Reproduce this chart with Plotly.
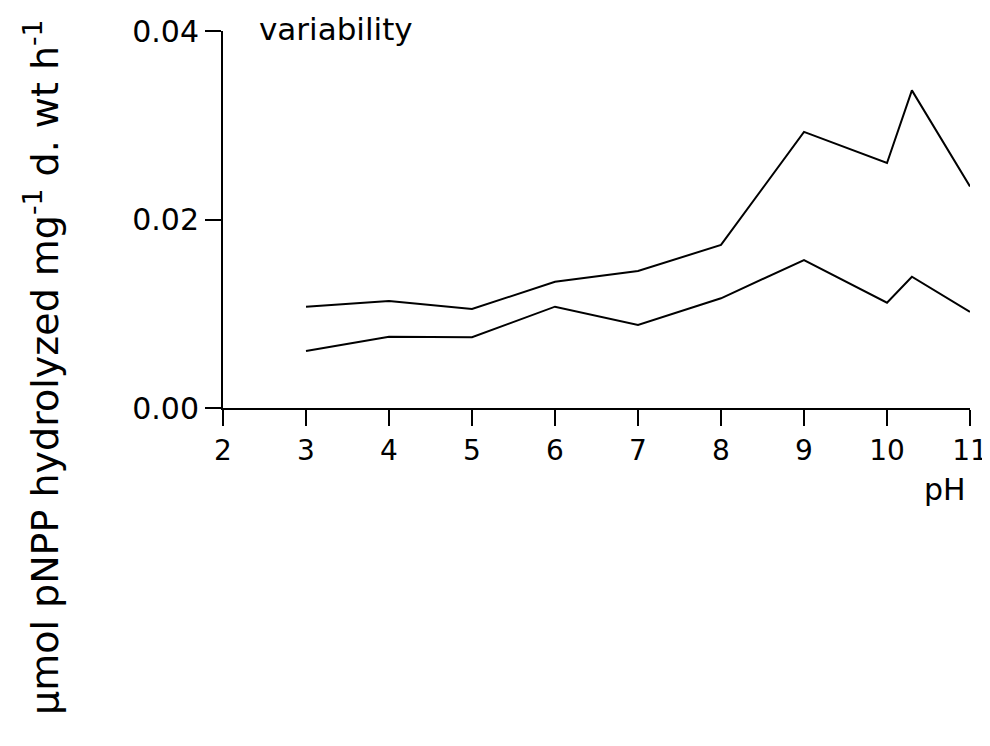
import plotly.graph_objects as go

ph = [3, 4, 5, 6, 7, 8, 9, 10, 10.3, 11]
upper = [0.01075, 0.01135, 0.0105, 0.0134, 0.01454, 0.0173, 0.0293, 0.0260, 0.0337, 0.0235]
lower = [0.00605, 0.00757, 0.0075, 0.01075, 0.0088, 0.01164, 0.0157, 0.01117, 0.01393, 0.0102]
x_ticks = [2, 3, 4, 5, 6, 7, 8, 9, 10, 11]
y_ticks = [0.0, 0.02, 0.04]
y_labels = ["0.00", "0.02", "0.04"]

FONT = "DejaVu Sans"

fig = go.Figure()
for series in (upper, lower):
    fig.add_trace(go.Scatter(x=ph, y=series, mode="lines",
                             line=dict(color="black", width=2), showlegend=False))

fig.update_layout(
    width=982, height=738,
    margin=dict(l=215, r=20, t=23, b=338, autoexpand=False),
    paper_bgcolor="white", plot_bgcolor="white",
    font=dict(family=FONT, color="black", size=26),
)
fig.update_xaxes(range=[2, 11], tickvals=x_ticks, ticktext=[str(v) for v in x_ticks],
                 showgrid=False, zeroline=False, showline=True, linecolor="black", linewidth=2,
                 ticks="outside", ticklen=16, tickwidth=2, tickcolor="black", automargin=False,
                 tickfont=dict(family=FONT, size=28))
fig.update_yaxes(range=[0, 0.04], tickvals=y_ticks, ticktext=y_labels,
                 showgrid=False, zeroline=False, showline=True, linecolor="black", linewidth=2,
                 ticks="outside", ticklen=16, tickwidth=2, tickcolor="black", automargin=False,
                 tickfont=dict(family=FONT, size=30))

fig.add_annotation(text="variability", xref="paper", yref="paper", x=0.045, y=1.004,
                   xanchor="left", yanchor="middle", showarrow=False,
                   font=dict(family=FONT, size=31))
fig.add_annotation(text="pH", xref="paper", yref="paper", x=0.997, y=-0.2175,
                   xanchor="right", yanchor="middle", showarrow=False,
                   font=dict(family=FONT, size=30))
fig.add_annotation(text="μmol pNPP hydrolyzed mg<sup>-1</sup> d. wt h<sup>-1</sup>",
                   xref="paper", yref="paper", x=-0.243, y=0.11, textangle=-90,
                   xanchor="center", yanchor="middle", showarrow=False,
                   font=dict(family=FONT, size=38))

fig.write_html("out.html")
